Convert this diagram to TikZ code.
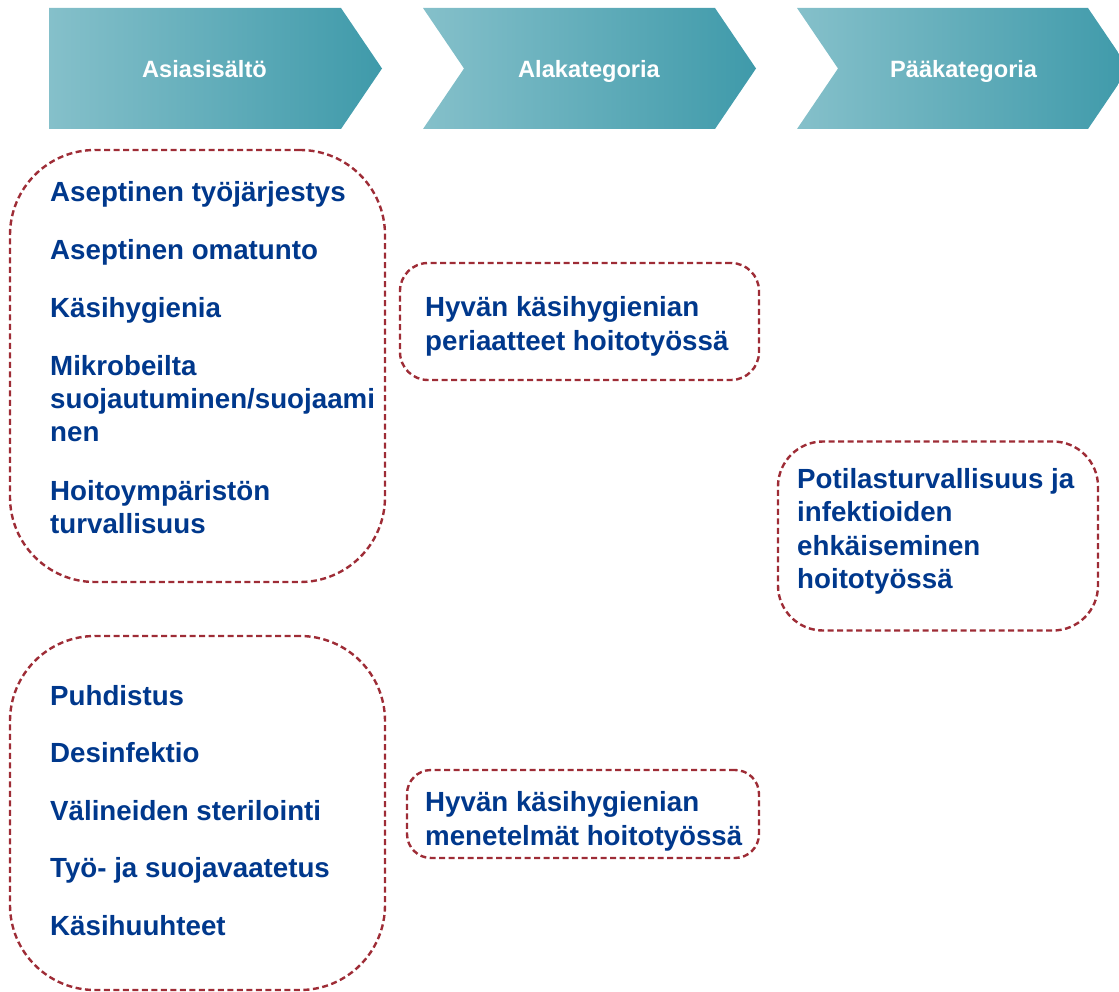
\documentclass[tikz,border=0pt]{standalone}
\usepackage{fontspec}
\setmainfont{Liberation Sans}
\definecolor{txtblue}{RGB}{0,56,140}
\definecolor{dashred}{RGB}{158,44,54}
\definecolor{tealL}{RGB}{133,192,202}
\definecolor{tealR}{RGB}{63,154,170}
\tikzset{
  dashbox/.style={draw=dashred, line width=2.4pt, dash pattern=on 6pt off 3.5pt, inner sep=0pt},
  item/.style={anchor=base west, inner sep=0pt, text=txtblue, font=\fontsize{27.7}{33.5}\selectfont\bfseries},
  head/.style={anchor=base west, inner sep=0pt, text=white, font=\fontsize{23.6}{28}\selectfont\bfseries},
  chev/.style={left color=tealL, right color=tealR},
}
\begin{document}
\begin{tikzpicture}[x=1pt,y=-1pt]
\useasboundingbox (0,0) rectangle (1119,992);
\clip (0,0) rectangle (1119,992);

% header chevrons
\shade[chev] (49,8) -- (341,8) -- (382,68.5) -- (341,129) -- (49,129) -- cycle;
\shade[chev] (423,8) -- (715,8) -- (756,68.5) -- (715,129) -- (423,129) -- (464,68.5) -- cycle;
\shade[chev] (797,8) -- (1088,8) -- (1129,68.5) -- (1088,129) -- (797,129) -- (838,68.5) -- cycle;
\node[head] (h1) at (142,78) {Asiasisältö};
\node[head] (h2) at (518,78) {Alakategoria};
\node[head] (h3) at (890,78) {Pääkategoria};

% dashed groups
\node[dashbox, rounded corners=85pt, minimum width=375pt, minimum height=432pt] (g1) at (197.5,366) {};
\node[dashbox, rounded corners=85pt, minimum width=375pt, minimum height=354pt] (g2) at (197.5,813) {};
\node[dashbox, rounded corners=28pt, minimum width=359pt, minimum height=117pt] (g3) at (579.5,321.5) {};
\node[dashbox, rounded corners=24pt, minimum width=352pt, minimum height=88pt] (g4) at (583,814) {};
\node[dashbox, rounded corners=45pt, minimum width=320pt, minimum height=189pt] (g5) at (938,536) {};

% items group 1
\node[item] (a1) at (50,201.7) {Aseptinen työjärjestys};
\node[item] (a2) at (50,260) {Aseptinen omatunto};
\node[item] (a3) at (50,317) {Käsihygienia};
\node[item] (a4a) at (50,375) {Mikrobeilta};
\node[item] (a4b) at (50,408) {suojautuminen/suojaami};
\node[item] (a4c) at (50,441) {nen};
\node[item] (a5a) at (50,500) {Hoitoympäristön};
\node[item] (a5b) at (50,533) {turvallisuus};

% items group 2
\node[item] (b1) at (50,705) {Puhdistus};
\node[item] (b2) at (50,762.5) {Desinfektio};
\node[item] (b3) at (50,820) {Välineiden sterilointi};
\node[item] (b4) at (50,877.5) {Työ- ja suojavaatetus};
\node[item] (b5) at (50,935) {Käsihuuhteet};

% subcategories
\node[item] (c1a) at (425,316.7) {Hyvän käsihygienian};
\node[item] (c1b) at (425,350) {periaatteet hoitotyössä};
\node[item] (c2a) at (425,811.7) {Hyvän käsihygienian};
\node[item] (c2b) at (425,845) {menetelmät hoitotyössä};

% main category
\node[item] (d1) at (797,488.3) {Potilasturvallisuus ja};
\node[item] (d2) at (797,521.7) {infektioiden};
\node[item] (d3) at (797,555) {ehkäiseminen};
\node[item] (d4) at (797,588.3) {hoitotyössä};
\end{tikzpicture}
\end{document}
